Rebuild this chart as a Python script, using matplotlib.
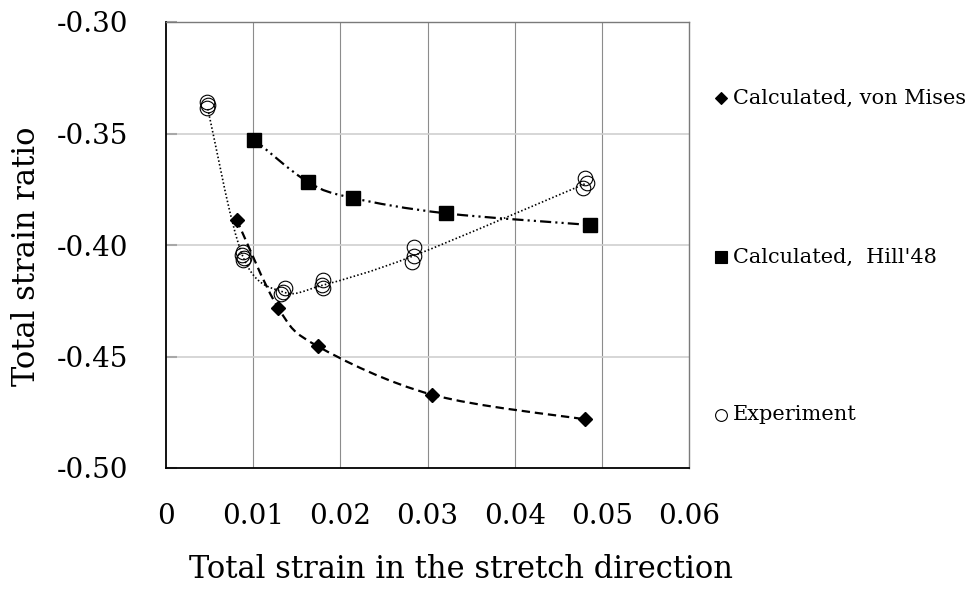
import numpy as np
import matplotlib
matplotlib.use("Agg")
import matplotlib.pyplot as plt
from matplotlib.path import Path
from matplotlib.patches import PathPatch
from matplotlib.lines import Line2D

plt.rcParams["font.family"] = ["DejaVu Serif"]
plt.rcParams["lines.scale_dashes"] = False

# calculated results
mises_x = [0.0081, 0.0129, 0.0174, 0.0305, 0.0481]
mises_y = [-0.3886, -0.4284, -0.4454, -0.4671, -0.4782]

hill_x = [0.0101, 0.0163, 0.0214, 0.0321, 0.0486]
hill_y = [-0.3527, -0.3718, -0.3789, -0.3858, -0.3910]

# measured points (several specimens per condition)
exp_x = [0.0047, 0.0048, 0.0047,
         0.0088, 0.0087, 0.0089, 0.0088,
         0.0132, 0.0137, 0.0134,
         0.0180, 0.0179, 0.0180,
         0.0284, 0.0284, 0.0282,
         0.0481, 0.0483, 0.0478]
exp_y = [-0.3358, -0.3372, -0.3387,
         -0.4030, -0.4045, -0.4058, -0.4068,
         -0.4220, -0.4194, -0.4209,
         -0.4157, -0.4179, -0.4194,
         -0.4007, -0.4051, -0.4078,
         -0.3699, -0.3721, -0.3743]

# trend line through the measured points
exp_line_x = [0.0048, 0.0088, 0.0134, 0.0180, 0.0283, 0.0481]
exp_line_y = [-0.3390, -0.4050, -0.4210, -0.4180, -0.4050, -0.3725]

x_ticks = [0, 0.01, 0.02, 0.03, 0.04, 0.05, 0.06]
x_labels = ["0", "0.01", "0.02", "0.03", "0.04", "0.05", "0.06"]
y_ticks = [-0.50, -0.45, -0.40, -0.35, -0.30]
y_labels = ["-0.50", "-0.45", "-0.40", "-0.35", "-0.30"]

legend_names = ["Calculated, von Mises", "Calculated,  Hill'48", "Experiment"]


def smooth_path(xs, ys):
    # Catmull-Rom style bezier through the points
    p = np.column_stack([xs, ys])
    pts = np.vstack([p[0], p, p[-1]])
    verts = [p[0]]
    codes = [Path.MOVETO]
    for i in range(1, len(pts) - 2):
        c1 = pts[i] + (pts[i + 1] - pts[i - 1]) / 6.0
        c2 = pts[i + 1] - (pts[i + 2] - pts[i]) / 6.0
        verts += [c1, c2, pts[i + 1]]
        codes += [Path.CURVE4] * 3
    return Path(verts, codes)


fig = plt.figure(figsize=(9.71, 5.90), dpi=100)
ax = fig.add_axes([166 / 971, 1 - 468 / 590, 523 / 971, 446 / 590])

ax.set_xlim(0, 0.06)
ax.set_ylim(-0.50, -0.30)

# grid
for xv in x_ticks[1:-1]:
    ax.axvline(xv, color="#8c8c8c", lw=0.8, zorder=1)
for yv in y_ticks[1:-1]:
    ax.axhline(yv, color="#cfcfcf", lw=1.2, zorder=1)

# smoothed lines
ax.add_patch(PathPatch(smooth_path(mises_x, mises_y), fill=False, color="black",
                       lw=1.6, linestyle=(0, (6, 3.5)), zorder=3))
ax.add_patch(PathPatch(smooth_path(hill_x, hill_y), fill=False, color="black",
                       lw=1.6, linestyle=(0, (8, 3, 1.5, 3, 1.5, 3)), zorder=3))
ax.add_patch(PathPatch(smooth_path(exp_line_x, exp_line_y), fill=False, color="black",
                       lw=1.2, linestyle=(0, (1.1, 1.6)), zorder=3))

ax.plot(mises_x, mises_y, ls="none", marker="D", ms=7.0, color="black", zorder=4)
ax.plot(hill_x, hill_y, ls="none", marker="s", ms=9.8, color="black", zorder=4)
ax.plot(exp_x, exp_y, ls="none", marker="o", ms=10.5, mfc="none", mec="black",
        mew=0.8, zorder=4)

ax.set_xticks(x_ticks)
ax.set_xticklabels(x_labels)
ax.set_yticks(y_ticks)
ax.set_yticklabels(y_labels)
ax.tick_params(axis="x", length=0, pad=25, labelsize=20)
ax.tick_params(axis="y", direction="in", length=8, width=1.5, color="#a8a8a8",
               pad=27, labelsize=20)

for side in ["left", "bottom"]:
    ax.spines[side].set_color("black")
    ax.spines[side].set_linewidth(1.3)
for side in ["top", "right"]:
    ax.spines[side].set_color("#7a7a7a")
    ax.spines[side].set_linewidth(1.0)

ax.set_xlabel("Total strain in the stretch direction", fontsize=22, va="center")
ax.xaxis.set_label_coords(295 / 523, -102 / 446)
ax.set_ylabel("Total strain ratio", fontsize=22, va="center")
ax.yaxis.set_label_coords(-139 / 523, 212 / 446)

# series labels on the right
legend_y = [98, 257, 415]
legend_marker = [("D", 6.0, "black"), ("s", 9.0, "black"), ("o", 8.5, "none")]
for name, ypix, (mk, ms, fc) in zip(legend_names, legend_y, legend_marker):
    yf = 1 - ypix / 590
    fig.add_artist(Line2D([721 / 971], [yf], marker=mk, ms=ms, mfc=fc, mec="black",
                          mew=0.8, ls="none", transform=fig.transFigure))
    fig.text(733 / 971, yf, name, fontsize=15, va="center", ha="left")

fig.savefig("out.png", dpi=100)
